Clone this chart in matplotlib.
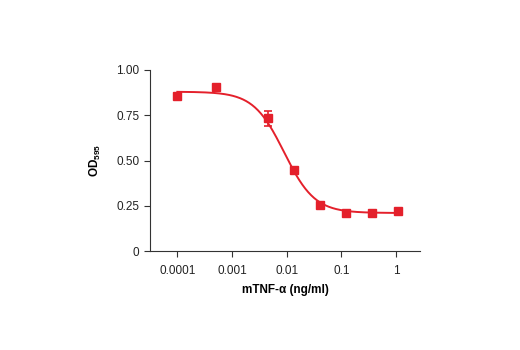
import numpy as np
import matplotlib
matplotlib.use("Agg")
import matplotlib.pyplot as plt

# Data
conc = [0.0001, 0.0005, 0.0046, 0.0138, 0.041, 0.123, 0.37, 1.11]
od = [0.858, 0.906, 0.733, 0.447, 0.252, 0.209, 0.208, 0.221]
od_err = [0.0, 0.0, 0.04, 0.0, 0.0, 0.0, 0.015, 0.0]

# 4-parameter logistic fit parameters
fit_top = 0.88
fit_bottom = 0.21
fit_ec50 = 0.009
fit_hill = 1.55
fit_range = [0.0001, 1.11]

xticks = [0.0001, 0.001, 0.01, 0.1, 1]
xtick_labels = ["0.0001", "0.001", "0.01", "0.1", "1"]
yticks = [0, 0.25, 0.5, 0.75, 1.0]
ytick_labels = ["0", "0.25", "0.50", "0.75", "1.00"]

plt.rcParams['font.family'] = ['Liberation Sans', 'DejaVu Sans']

red = '#e4202b'
fig = plt.figure(figsize=(5.2, 3.5), dpi=100)
ax = fig.add_axes([150/520, 1-251/350, 270/520, 181/350])

xs = np.logspace(np.log10(fit_range[0]), np.log10(fit_range[1]), 300)
ys = fit_bottom + (fit_top - fit_bottom) / (1 + (xs / fit_ec50) ** fit_hill)
ax.plot(xs, ys, color=red, lw=1.4, zorder=2)

ax.errorbar(conc, od, yerr=od_err, fmt='s', color=red, ms=5.5, capsize=3,
            elinewidth=1.2, capthick=1.2, zorder=3)

ax.set_xscale('log')
ax.set_xlim(10**-4.5, 10**0.44)
ax.set_ylim(0, 1.0)
ax.set_xticks(xticks)
ax.set_xticklabels(xtick_labels)
ax.minorticks_off()
ax.set_yticks(yticks)
ax.set_yticklabels(ytick_labels)

for s in ['top', 'right']:
    ax.spines[s].set_visible(False)
for s in ['left', 'bottom']:
    ax.spines[s].set_color('#333333')
    ax.spines[s].set_linewidth(0.8)
ax.tick_params(axis='both', labelsize=8.5, color='#333333', length=4, width=0.8,
               labelcolor='#222222')
ax.tick_params(axis='x', pad=6)

ax.set_xlabel('mTNF-α (ng/ml)', fontsize=8.5, fontweight='bold', labelpad=5)
ax.set_ylabel('OD$_{\\mathregular{595}}$', fontsize=8.5, fontweight='bold', labelpad=10)

fig.savefig('out.png', dpi=100)
